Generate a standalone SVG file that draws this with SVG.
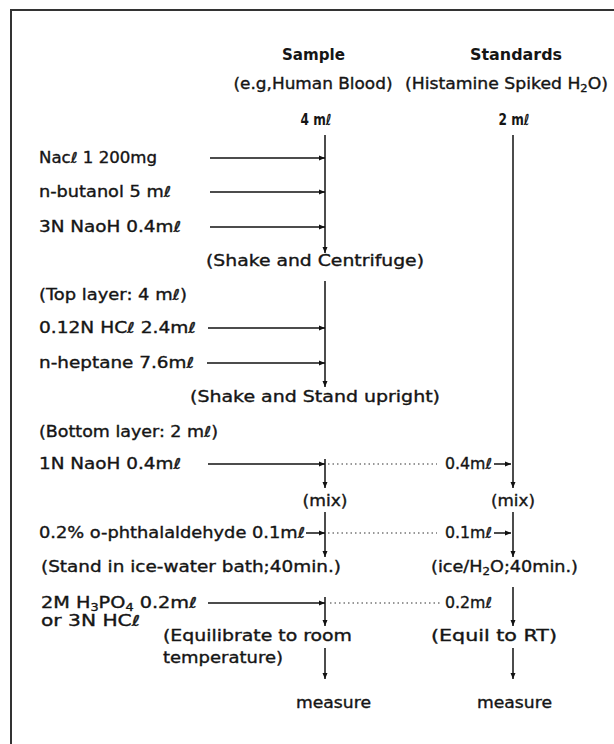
<svg xmlns="http://www.w3.org/2000/svg" width="614" height="744" viewBox="0 0 614 744">
<style>
text{font-family:"DejaVu Sans","Liberation Sans",Arial,sans-serif;font-size:15px;fill:#151515;stroke:#151515;stroke-width:0.35;}
.h{font-weight:bold;font-size:15px;stroke-width:0;}
.b{font-weight:bold;stroke-width:0;}
.c{text-anchor:middle;}
.arr{stroke:#111;stroke-width:1.5;fill:none;marker-end:url(#ah);}
.dot{stroke:#777;stroke-width:1.3;stroke-dasharray:1.5 3;fill:none;}
.frame{stroke:#333;stroke-width:2;fill:none;}
</style>
<defs>
<marker id="ah" markerUnits="userSpaceOnUse" markerWidth="7" markerHeight="6" refX="6" refY="3" orient="auto">
<path d="M0,0.5 L6,3 L0,5.5 z" fill="#111"/>
</marker>
</defs>
<rect width="614" height="744" fill="#fff"/>
<path class="frame" d="M11,744 V10 H614"/>

<g id="connectors">
<path class="arr" d="M325,135 V253"/>
<path class="arr" d="M210,158 H325"/>
<path class="arr" d="M210,192 H325"/>
<path class="arr" d="M210,227 H325"/>
<path class="arr" d="M325,281 V387"/>
<path class="arr" d="M208,328 H325"/>
<path class="arr" d="M207,363 H325"/>
<path class="arr" d="M208,464 H325"/>
<path class="arr" d="M325,459 V488"/>
<path class="arr" d="M325,512 V557"/>
<path class="arr" d="M306,533 H325"/>
<path class="arr" d="M208,603 H325"/>
<path class="arr" d="M325,597 V626"/>
<path class="arr" d="M325,648 V679"/>
<path class="arr" d="M513,135 V488"/>
<path class="arr" d="M513,512 V557"/>
<path class="arr" d="M513,587 V626"/>
<path class="arr" d="M513,648 V679"/>
<path class="dot" d="M328,464 H437"/>
<path class="arr" d="M494,464 H511"/>
<path class="dot" d="M328,533 H437"/>
<path class="arr" d="M494,533 H511"/>
<path class="dot" d="M330,603 H441"/>
</g>

<g id="header-sample">
<text class="h c" x="313.5" y="60" textLength="63" lengthAdjust="spacingAndGlyphs">Sample</text>
<text class="c" x="313" y="89" textLength="159" lengthAdjust="spacingAndGlyphs">(e.g,Human Blood)</text>
<text class="b c" x="316" y="125" textLength="31" lengthAdjust="spacingAndGlyphs">4 mℓ</text>
</g>
<g id="header-standards">
<text class="h c" x="516" y="60" textLength="92" lengthAdjust="spacingAndGlyphs">Standards</text>
<text x="405" y="89" textLength="203" lengthAdjust="spacingAndGlyphs">(Histamine Spiked H<tspan font-size="10" dy="3">2</tspan><tspan dy="-3">O)</tspan></text>
<text class="b c" x="514" y="125" textLength="31" lengthAdjust="spacingAndGlyphs">2 mℓ</text>
</g>

<g id="reagent-nacl"><text x="39" y="163" textLength="118" lengthAdjust="spacingAndGlyphs">Nacℓ 1 200mg</text></g>
<g id="reagent-butanol"><text x="39" y="197" textLength="132" lengthAdjust="spacingAndGlyphs">n-butanol  5 mℓ</text></g>
<g id="reagent-naoh3n"><text x="39" y="232" textLength="142" lengthAdjust="spacingAndGlyphs">3N  NaoH  0.4mℓ</text></g>
<g id="step-centrifuge"><text x="206" y="266" textLength="218" lengthAdjust="spacingAndGlyphs">(Shake and Centrifuge)</text></g>
<g id="top-layer"><text x="39" y="300" textLength="148" lengthAdjust="spacingAndGlyphs">(Top layer: 4 mℓ)</text></g>
<g id="reagent-hcl"><text x="39" y="333" textLength="157" lengthAdjust="spacingAndGlyphs">0.12N HCℓ 2.4mℓ</text></g>
<g id="reagent-heptane"><text x="39" y="368" textLength="155" lengthAdjust="spacingAndGlyphs">n-heptane 7.6mℓ</text></g>
<g id="step-upright"><text x="190" y="402" textLength="250" lengthAdjust="spacingAndGlyphs">(Shake and Stand upright)</text></g>
<g id="bottom-layer"><text x="39" y="437" textLength="179" lengthAdjust="spacingAndGlyphs">(Bottom layer: 2 mℓ)</text></g>
<g id="reagent-naoh1n"><text x="39" y="469" textLength="142" lengthAdjust="spacingAndGlyphs">1N  NaoH  0.4mℓ</text></g>
<g id="std-naoh"><text x="445" y="469" textLength="47" lengthAdjust="spacingAndGlyphs">0.4mℓ</text></g>
<g id="mix-sample"><text class="c" x="325" y="506" textLength="45" lengthAdjust="spacingAndGlyphs">(mix)</text></g>
<g id="mix-standards"><text class="c" x="513" y="506" textLength="44" lengthAdjust="spacingAndGlyphs">(mix)</text></g>
<g id="reagent-opa"><text x="39" y="538" textLength="266" lengthAdjust="spacingAndGlyphs">0.2%  o-phthalaldehyde 0.1mℓ</text></g>
<g id="std-opa"><text x="445" y="538" textLength="47" lengthAdjust="spacingAndGlyphs">0.1mℓ</text></g>
<g id="step-ice-sample"><text x="41" y="572" textLength="300" lengthAdjust="spacingAndGlyphs">(Stand in ice-water bath;40min.)</text></g>
<g id="step-ice-standards"><text x="431" y="572" textLength="147" lengthAdjust="spacingAndGlyphs">(ice/H<tspan font-size="10" dy="3">2</tspan><tspan dy="-3">O;40min.)</tspan></text></g>
<g id="reagent-acid">
<text x="41" y="608" textLength="156" lengthAdjust="spacingAndGlyphs">2M  H<tspan font-size="10" dy="3">3</tspan><tspan dy="-3">PO</tspan><tspan font-size="10" dy="3">4</tspan><tspan dy="-3">  0.2mℓ</tspan></text>
<text x="41" y="626" textLength="99" lengthAdjust="spacingAndGlyphs">or 3N  HCℓ</text>
</g>
<g id="std-acid"><text x="445" y="608" textLength="47" lengthAdjust="spacingAndGlyphs">0.2mℓ</text></g>
<g id="step-equil-sample">
<text x="163" y="641" textLength="189" lengthAdjust="spacingAndGlyphs">(Equilibrate to room</text>
<text x="163" y="663" textLength="120" lengthAdjust="spacingAndGlyphs">temperature)</text>
</g>
<g id="step-equil-standards"><text x="431" y="641" textLength="126" lengthAdjust="spacingAndGlyphs">(Equil to RT)</text></g>
<g id="measure-sample"><text x="296" y="708" textLength="75" lengthAdjust="spacingAndGlyphs">measure</text></g>
<g id="measure-standards"><text x="477" y="708" textLength="75" lengthAdjust="spacingAndGlyphs">measure</text></g>
</svg>
